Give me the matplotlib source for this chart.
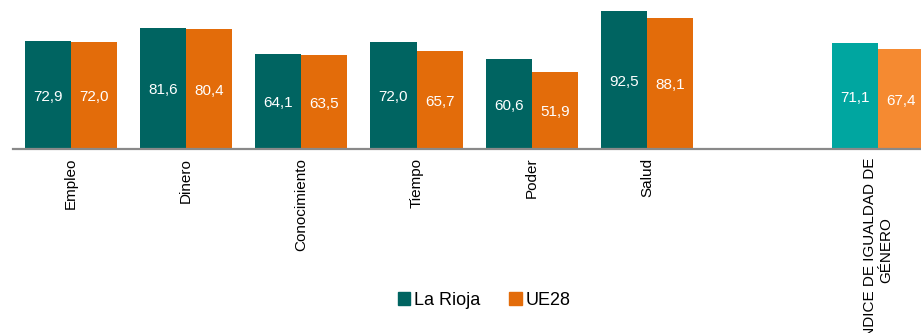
import matplotlib.pyplot as plt
import numpy as np
from matplotlib.patches import Patch

plt.rcParams["font.family"] = ["Liberation Sans", "DejaVu Sans"]

# datos
categorias = ["Empleo", "Dinero", "Conocimiento", "Tiempo", "Poder", "Salud", "",
              "ÍNDICE DE IGUALDAD DE\nGÉNERO"]
la_rioja = [72.9, 81.6, 64.1, 72.0, 60.6, 92.5, None, 71.1]
ue28 = [72.0, 80.4, 63.5, 65.7, 51.9, 88.1, None, 67.4]

col_rioja = ["#006461"] * 7 + ["#00A6A0"]
col_ue = ["#E36C0A"] * 7 + ["#F58A31"]

fig = plt.figure(figsize=(9.21, 3.33), dpi=100)
ax = fig.add_axes([13 / 921, 1 - 149.5 / 333, 1 - 13 / 921, 149.5 / 333])

x = np.arange(len(categorias))
w = 0.4
for i in x:
    if la_rioja[i] is None:
        continue
    ax.bar(i - w / 2, la_rioja[i], w, color=col_rioja[i])
    ax.bar(i + w / 2, ue28[i], w, color=col_ue[i])
    ax.text(i - w / 2, la_rioja[i] / 2 - 1, f"{la_rioja[i]:.1f}".replace(".", ","),
            ha="center", va="center", color="white", fontsize=11)
    ax.text(i + w / 2, ue28[i] / 2 - 1, f"{ue28[i]:.1f}".replace(".", ","),
            ha="center", va="center", color="white", fontsize=11)

ax.set_xlim(-0.5, 7.376)
ax.set_ylim(0, 100)
ax.set_yticks([])
ax.set_xticks(x)
ax.set_xticklabels(categorias, rotation=90, fontsize=11, multialignment="center")
ax.tick_params(axis="x", length=0, pad=6)
for s in ["top", "left", "right"]:
    ax.spines[s].set_visible(False)
ax.spines["bottom"].set_color("#898989")
ax.spines["bottom"].set_linewidth(1.6)

# leyenda
handles = [Patch(color="#006461", label="La Rioja"), Patch(color="#E36C0A", label="UE28")]
fig.legend(handles=handles, loc="center", bbox_to_anchor=(484 / 921, 0.099), ncol=2,
           frameon=False, fontsize=13, handlelength=0.7, handleheight=0.7,
           handletextpad=0.2, columnspacing=1.6)

plt.savefig("out.png", dpi=100)
